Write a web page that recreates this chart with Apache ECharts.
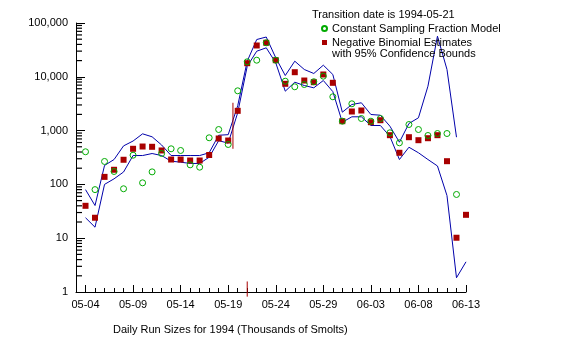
<!DOCTYPE html>
<html><head><meta charset="utf-8">
<script src="https://cdn.jsdelivr.net/npm/echarts@6/dist/echarts.min.js"></script>
<style>html,body{margin:0;padding:0;background:#fff}#c{width:572px;height:355px}</style>
</head><body><div id="c"></div>
<script>
// Axis categories (05-03 is the axis origin, data start 05-04)
const dateLabels = ['05-03','05-04','05-05','05-06','05-07','05-08','05-09','05-10','05-11','05-12','05-13','05-14','05-15','05-16','05-17','05-18','05-19','05-20','05-21','05-22','05-23','05-24','05-25','05-26','05-27','05-28','05-29','05-30','05-31','06-01','06-02','06-03','06-04','06-05','06-06','06-07','06-08','06-09','06-10','06-11','06-12','06-13'];
const labeledDates = ['05-04','05-09','05-14','05-19','05-24','05-29','06-03','06-08','06-13'];
const yTickValues = [1,10,100,1000,10000,100000];
const yMinorMultipliers = [2,3,4,5,6,7,8,9];

// Daily values starting 05-04 (thousands of smolts)
const nbEstimates = [40,24,138,187,287,459,506,500,427,290,290,278,278,352,713,654,2330,17900,38200,42900,20350,7410,12180,8530,7940,11040,7730,1496,2264,2364,1432,1560,822,387,754,663,722,822,270,10.2,27.2];
const csfModel = [404,80,267,174,83,349,107,171,375,459,427,231,209,735,1047,552,5490,19000,20350,42900,20350,8280,6520,7190,8100,10270,4250,1496,3150,1679,1496,1679,910,593,1298,1047,811,883,883,65,null];
const upperBound = [80,40.5,225,290,520,640,871,767,540,344,344,344,344,387,820,840,2900,19500,49300,54900,22540,10570,19500,13670,11520,16440,11040,2198,3055,3290,1991,1932,1208,609,1355,1730,6690,56900,13700,754,null];
const lowerBound = [24,16,100,127,170,344,344,375,344,270,259,245,245,320,650,585,2150,15700,29900,34600,18200,5400,7940,6890,6240,8530,5300,1432,1805,1805,1244,1244,780,290,491,387,290,220,62,1.84,3.64];
// red vertical segment inside the plot (days from 05-03, values)
const redSegX = 16.5;
const redSegValues = [459, 3290];
// transition date marker on the axis
const transitionDate = '05-21';
const transitionValues = [0.82, 1.57];

const FONT = 'Liberation Sans, Arial, sans-serif';
const toXY = arr => arr.map((v,i) => [i+1, v]);
const isLabeled = (i, v) => labeledDates.indexOf(dateLabels[i]) >= 0;
const tIdx = dateLabels.indexOf(transitionDate);

// y minor ticks (2..9 per decade) drawn as thin marks on the y axis
const yMinorData = [];
yTickValues.slice(0,-1).forEach(d => yMinorMultipliers.forEach(m => yMinorData.push([0, m*d])));

const txt = {fontSize:11, fontWeight:'normal', color:'#000', fontFamily:FONT, lineHeight:11};
const hiddenSplit = {show:true, lineStyle:{color:'#ffffff', width:1, opacity:0}};

const chart = echarts.init(document.getElementById('c'), null, {renderer:'canvas'});
chart.setOption({
  animation:false,
  title:[
    {text:'Transition date is 1994-05-21', left:312, top:9, padding:0, textStyle:txt},
    {text:'with 95% Confidence Bounds', left:332, top:48, padding:0, textStyle:txt},
    {text:'Daily Run Sizes for 1994 (Thousands of Smolts)', left:113, top:324, padding:0, textStyle:txt}
  ],
  legend:{
    orient:'vertical', left:321, top:23, padding:0, itemGap:3,
    itemWidth:5, itemHeight:5, selectedMode:false,
    textStyle:{fontSize:11, color:'#000', fontFamily:FONT, lineHeight:11},
    data:[
      {name:'Constant Sampling Fraction Model', icon:'circle'},
      {name:'Negative Binomial Estimates', icon:'rect'}
    ]
  },
  grid:{left:76, right:106, top:23, bottom:63},
  xAxis:[
    {type:'value', min:0, max:41, interval:1, position:'bottom',
     axisLine:{show:true, lineStyle:{color:'#000'}},
     axisTick:{show:true, inside:true, length:4, lineStyle:{color:'#000', width:1}},
     axisLabel:{show:false}, splitLine:hiddenSplit},
    {type:'category', data:dateLabels, boundaryGap:false, position:'bottom',
     axisLine:{show:false},
     axisTick:{show:true, inside:true, length:7, interval:isLabeled, lineStyle:{color:'#000', width:1}},
     axisLabel:{show:true, interval:isLabeled, fontSize:11, color:'#000', margin:7, fontFamily:FONT},
     splitLine:hiddenSplit}
  ],
  yAxis:{type:'log', logBase:10, min:1, max:100000,
    axisLine:{show:true, lineStyle:{color:'#000'}},
    axisTick:{show:true, inside:true, length:9, lineStyle:{color:'#000', width:1}},
    axisLabel:{fontSize:11, color:'#000', margin:8, fontFamily:FONT,
      formatter: v => Math.round(v).toLocaleString('en-US')},
    splitLine:hiddenSplit},
  series:[
    {type:'line', name:'Upper 95% bound', data:toXY(upperBound), symbol:'none', connectNulls:false, clip:false,
     lineStyle:{color:'#0000aa', width:1}, z:2, silent:true},
    {type:'line', name:'Lower 95% bound', data:toXY(lowerBound), symbol:'none', connectNulls:false, clip:false,
     lineStyle:{color:'#0000aa', width:1}, z:2, silent:true},
    {type:'scatter', name:'Negative Binomial Estimates', data:toXY(nbEstimates), symbol:'rect', symbolSize:6,
     itemStyle:{color:'#a80000', opacity:1}, z:3},
    {type:'scatter', name:'Constant Sampling Fraction Model', data:toXY(csfModel), symbol:'circle', symbolSize:6,
     itemStyle:{color:'rgba(0,0,0,0)', borderColor:'#00aa00', borderWidth:1, opacity:1}, z:4},
    {type:'line', name:'segment', data:redSegValues.map(v => [redSegX, v]), symbol:'none', clip:false,
     lineStyle:{color:'#a80000', width:1}, z:3, silent:true},
    {type:'line', name:'transition', data:transitionValues.map(v => [tIdx, v]), symbol:'none', clip:false,
     lineStyle:{color:'#a80000', width:1}, z:5, silent:true},
    {type:'scatter', name:'yMinorTicks', data:yMinorData, symbol:'rect', symbolSize:[6,1.2], symbolOffset:[3,0],
     clip:false, silent:true, z:10, itemStyle:{color:'#000', opacity:1}}
  ]
});
</script>
</body></html>
